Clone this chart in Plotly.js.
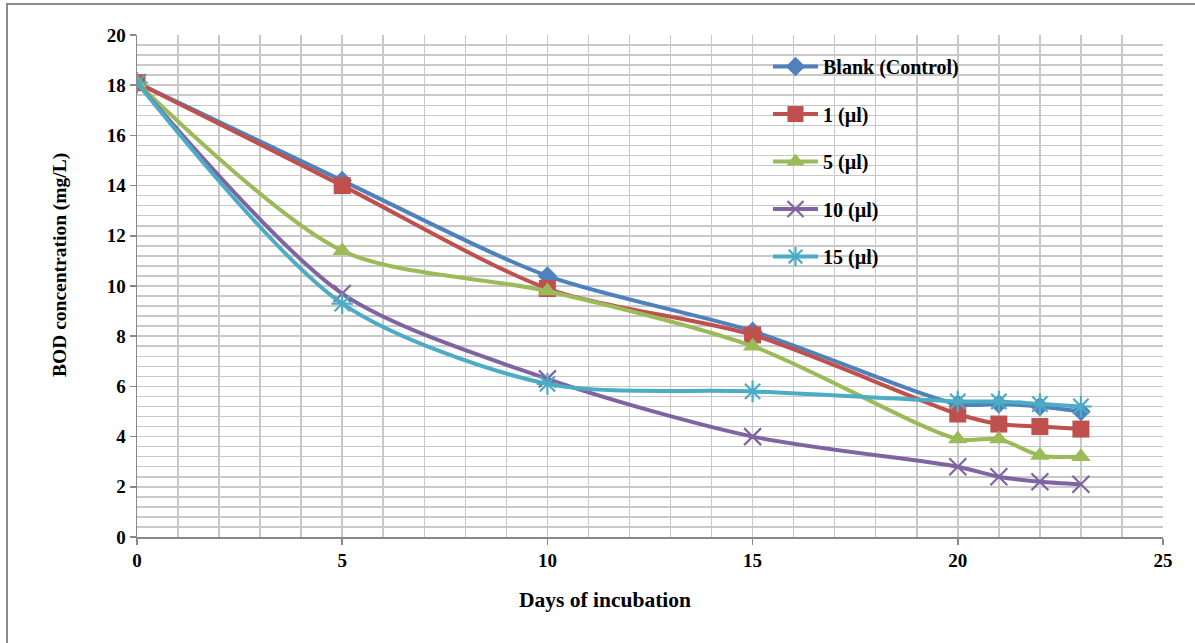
<!DOCTYPE html>
<html>
<head>
<meta charset="utf-8">
<script src="https://cdn.plot.ly/plotly-3.0.1.min.js"></script>
<style>
html,body{margin:0;padding:0;background:#fff;}
#wrap{position:relative;width:1195px;height:643px;overflow:hidden;}
#frame{position:absolute;left:6px;top:3px;width:1200px;height:660px;border:2px solid #8c8c8c;box-sizing:border-box;pointer-events:none;z-index:5;}
#chart{position:absolute;left:0;top:0;width:1195px;height:643px;}
</style>
</head>
<body>
<div id="wrap"><div id="chart"></div><div id="frame"></div></div>
<script>
const days = [0, 5, 10, 15, 20, 21, 22, 23];
const seriesNames = ["Blank (Control)", "1 (µl)", "5 (µl)", "10 (µl)", "15 (µl)"];
const blank = [18.1, 14.2, 10.4, 8.2, 5.3, 5.3, 5.2, 5.0];
const ul1   = [18.1, 14.0, 9.9, 8.05, 4.9, 4.5, 4.4, 4.3];
const ul5   = [18.1, 11.4, 9.8, 7.6, 3.9, 3.9, 3.25, 3.2];
const ul10  = [18.1, 9.7, 6.3, 4.0, 2.8, 2.4, 2.2, 2.1];
const ul15  = [18.1, 9.3, 6.1, 5.8, 5.4, 5.4, 5.3, 5.2];
const xTicks = [0, 5, 10, 15, 20, 25];
const yTicks = [0, 2, 4, 6, 8, 10, 12, 14, 16, 18, 20];
const xTitle = "Days of incubation";
const yTitle = "BOD concentration (mg/L)";

const colors = ["#4F81BD", "#C0504D", "#9BBB59", "#8064A2", "#4BACC6"];
const symbols = ["diamond", "square", "triangle-up", "x-thin-open", "asterisk-open"];
const sizes = [15, 17, 17, 17, 18];
const values = [blank, ul1, ul5, ul10, ul15];

const traces = values.map((v, i) => ({
  x: days, y: v, name: seriesNames[i], type: "scatter", mode: "lines+markers",
  legendgroup: "g" + i,
  line: {color: colors[i], width: 4, shape: "spline", smoothing: 0.8},
  marker: {symbol: symbols[i], size: sizes[i], color: colors[i],
           line: {color: colors[i], width: (i >= 3 ? 2.2 : 0)}}
}));

const font = '"Liberation Serif", "Times New Roman", serif';
const layout = {
  width: 1195, height: 643,
  margin: {l: 137, r: 32, t: 35, b: 106},
  paper_bgcolor: "#ffffff", plot_bgcolor: "#ffffff",
  showlegend: true,
  legend: {x: 0.615, y: 0.976, xanchor: "left", yanchor: "top",
           font: {family: font, size: 20, color: "#000", weight: "bold"},
           bgcolor: "rgba(0,0,0,0)", tracegroupgap: 18.5, itemwidth: 45, traceorder: "grouped"},
  xaxis: {
    range: [0, 25], tickvals: xTicks, ticktext: xTicks.map(String),
    showgrid: true, gridcolor: "#c8c8c8", gridwidth: 1.5,
    minor: {dtick: 1, showgrid: true, gridcolor: "#c8c8c8", gridwidth: 1.5},
    showline: true, linecolor: "#888888", linewidth: 1.5,
    ticks: "outside", ticklen: 6, tickcolor: "#888888", tickwidth: 1.5,
    zeroline: false,
    tickfont: {family: font, size: 19, color: "#000", weight: "bold"}
  },
  yaxis: {
    range: [0, 20], tickvals: yTicks, ticktext: yTicks.map(String),
    showgrid: true, gridcolor: "#c8c8c8", gridwidth: 1.5,
    minor: {dtick: 0.4, showgrid: true, gridcolor: "#c8c8c8", gridwidth: 1.5},
    showline: true, linecolor: "#888888", linewidth: 1.5,
    ticks: "outside", ticklen: 6, tickcolor: "#888888", tickwidth: 1.5,
    zeroline: false,
    tickfont: {family: font, size: 19, color: "#000", weight: "bold"}
  },
  annotations: [
    {text: xTitle, xref: "paper", yref: "paper", x: 0.456, y: -0.1255,
     xanchor: "center", yanchor: "middle", showarrow: false,
     font: {family: font, size: 21.5, color: "#000", weight: "bold"}},
    {text: yTitle, xref: "paper", yref: "paper", x: -0.075, y: 0.542,
     xanchor: "center", yanchor: "middle", showarrow: false, textangle: -90,
     font: {family: font, size: 19.5, color: "#000", weight: "bold"}}
  ]
};
Plotly.newPlot("chart", traces, layout, {displayModeBar: false, staticPlot: true});
</script>
</body>
</html>
